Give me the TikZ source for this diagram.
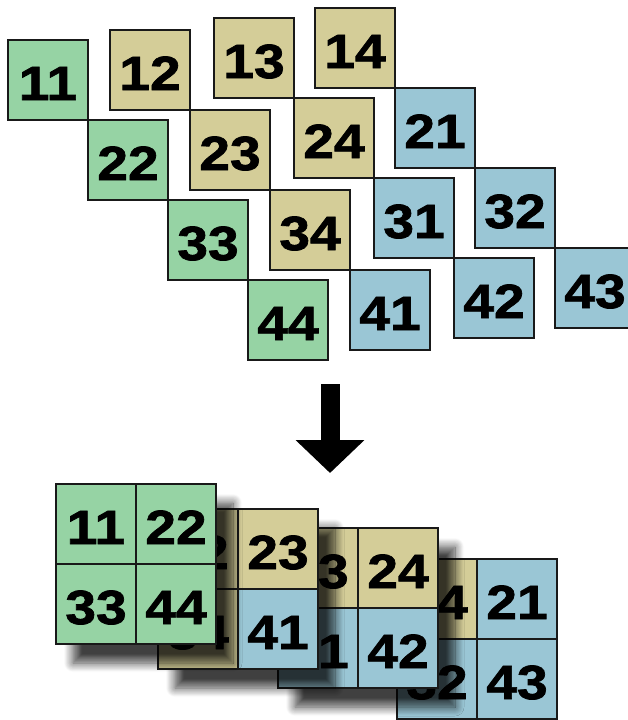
\documentclass[tikz,border=0pt]{standalone}
\usepackage{fontspec}
\usetikzlibrary{arrows.meta,positioning,shadows.blur}
\newfontfamily\cellfont[FakeStretch=1.15,FakeBold=1.5]{Liberation Sans}
\definecolor{mintgreen}{HTML}{96D3A4}
\definecolor{khaki}{HTML}{D4CD98}
\definecolor{skyblue}{HTML}{9AC6D5}

\begin{document}
\begin{tikzpicture}[x=1pt,y=-1pt,
 cellbox/.style={draw=black!90,line width=1.4pt,minimum size=80pt,inner sep=0pt,outer sep=0pt,text height=40pt,text depth=0pt,font=\cellfont\bfseries\fontsize{48}{48}\selectfont},
 gcell/.style={cellbox,fill=mintgreen},kcell/.style={cellbox,fill=khaki},bcell/.style={cellbox,fill=skyblue},
 blockshadow/.style={fill=white,blur shadow={shadow xshift=17pt,shadow yshift=-19pt,shadow blur radius=9pt,shadow blur steps=12,shadow opacity=75}}]
\useasboundingbox (0,0) rectangle (627,720);
% diagonals before the move
\node[gcell,anchor=north west] (t11) at (8,40) {11};\node[gcell,below right=0pt of t11] (t22) {22};
\node[gcell,below right=0pt of t22] (t33) {33};\node[gcell,below right=0pt of t33] (t44) {44};
\node[kcell,anchor=north west] (t12) at (110,30) {12};\node[kcell,below right=0pt of t12] (t23) {23};
\node[kcell,below right=0pt of t23] (t34) {34};\node[bcell,below right=0pt of t34] (t41) {41};
\node[kcell,anchor=north west] (t13) at (214,18) {13};\node[kcell,below right=0pt of t13] (t24) {24};
\node[bcell,below right=0pt of t24] (t31) {31};\node[bcell,below right=0pt of t31] (t42) {42};
\node[kcell,anchor=north west] (t14) at (315,8) {14};\node[bcell,below right=0pt of t14] (t21) {21};
\node[bcell,below right=0pt of t21] (t32) {32};\node[bcell,below right=0pt of t32] (t43) {43};
% arrow
\coordinate (arrow top) at (330,384);\coordinate (arrow tip) at (330,473);
\draw[line width=19pt,-{Triangle[width=67pt,length=33pt]}] (arrow top)--(arrow tip);
% stacked blocks, back to front
\coordinate (q4) at (397,559);
\node[kcell,anchor=north west] (b14) at (q4) {14};\node[bcell,right=0pt of b14] (b21) {21};
\node[bcell,below=0pt of b14] (b32) {32};\node[bcell,below=0pt of b21] (b43) {43};
\coordinate (q3) at (278,528);\fill[blockshadow] (q3) rectangle +(160,160);
\node[kcell,anchor=north west] (b13) at (q3) {13};\node[kcell,right=0pt of b13] (b24) {24};
\node[bcell,below=0pt of b13] (b31) {31};\node[bcell,below=0pt of b24] (b42) {42};
\coordinate (q2) at (158,509);\fill[blockshadow] (q2) rectangle +(160,160);
\node[kcell,anchor=north west] (b12) at (q2) {12};\node[kcell,right=0pt of b12] (b23) {23};
\node[kcell,below=0pt of b12] (b34) {34};\node[bcell,below=0pt of b23] (b41) {41};
\coordinate (q1) at (56,484);\fill[blockshadow] (q1) rectangle +(160,160);
\node[gcell,anchor=north west] (b11) at (q1) {11};\node[gcell,right=0pt of b11] (b22) {22};
\node[gcell,below=0pt of b11] (b33) {33};\node[gcell,below=0pt of b22] (b44) {44};
\end{tikzpicture}
\end{document}
